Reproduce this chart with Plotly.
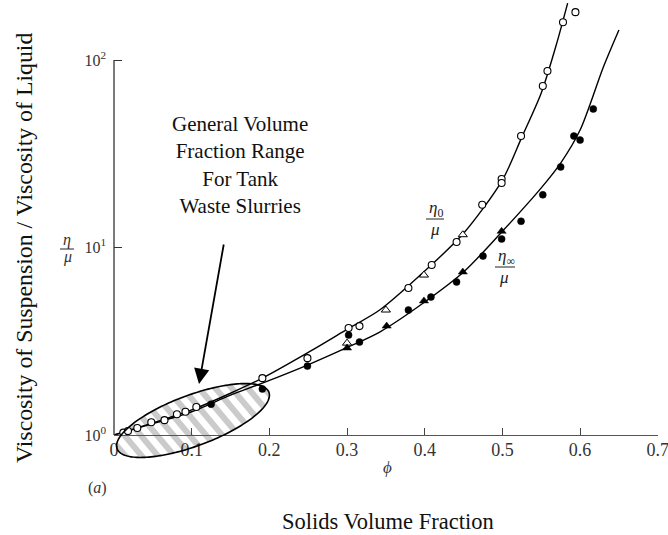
import numpy as np
import plotly.graph_objects as go

# ---------------- data ----------------
# eta_0 / mu : open circles
x_open_c = [0.012, 0.018, 0.030, 0.048, 0.065, 0.081, 0.092, 0.106, 0.191, 0.249,
            0.302, 0.316, 0.379, 0.409, 0.441, 0.474, 0.499, 0.499, 0.524, 0.552,
            0.558, 0.578, 0.594]
y_open_c = [1.03, 1.05, 1.09, 1.17, 1.20, 1.29, 1.33, 1.41, 2.01, 2.57,
            3.72, 3.81, 6.08, 8.07, 10.7, 16.9, 23.2, 22.1, 39.3, 72.6,
            87.4, 159, 180]
# open triangles
x_open_t = [0.300, 0.350, 0.399, 0.449]
y_open_t = [3.09, 4.64, 7.13, 11.7]
# eta_inf / mu : filled circles
x_fill_c = [0.125, 0.191, 0.249, 0.302, 0.316, 0.379, 0.408, 0.441, 0.475, 0.499,
            0.524, 0.552, 0.575, 0.592, 0.600, 0.617]
y_fill_c = [1.46, 1.76, 2.33, 3.41, 3.13, 4.64, 5.44, 6.55, 9.0, 11.1,
            13.8, 19.1, 26.9, 39.3, 37.4, 54.8]
# filled triangles
x_fill_t = [0.300, 0.351, 0.399, 0.449, 0.499]
y_fill_t = [2.91, 3.81, 5.19, 7.4, 12.2]

# fitted curves as drawn in the picture
x_curve0 = [0.0, 0.05, 0.10, 0.15, 0.191, 0.249, 0.301, 0.342, 0.40, 0.45, 0.50, 0.525, 0.55, 0.57, 0.584]
y_curve0 = [1.0, 1.16, 1.36, 1.67, 2.01, 2.74, 3.68, 4.64, 7.49, 11.9, 22.9, 38.8, 66.7, 123, 201]
x_curveI = [0.0, 0.05, 0.10, 0.15, 0.191, 0.249, 0.301, 0.342, 0.40, 0.45, 0.50, 0.55, 0.575, 0.60, 0.63, 0.65]
y_curveI = [1.0, 1.15, 1.33, 1.63, 1.89, 2.36, 2.94, 3.54, 5.12, 7.4, 12.2, 20.8, 28.2, 42.3, 91.8, 144.6]

x_ticks = [0, 0.1, 0.2, 0.3, 0.4, 0.5, 0.6, 0.7]
x_tick_text = ["0", "0.1", "0.2", "0.3", "0.4", "0.5", "0.6", "0.7"]
y_ticks = [1, 10, 100]
y_tick_text = ["10<sup>0</sup>", "10<sup>1</sup>", "10<sup>2</sup>"]

# ---------------- layout geometry ----------------
W, H = 668, 535
ML, MR, MT, MB = 114, 10, 0, 100
PW, PH = W - ML - MR, H - MT - MB
DEC = 187.5                      # pixels per decade
YTOP = PH / DEC                  # log10 of top of plot area

SERIF = "Liberation Serif, Times New Roman, serif"


def px2paper(px, py):
    return (px - ML) / PW, (MT + PH - py) / PH


# ---------------- figure ----------------
fig = go.Figure()

line_style = dict(color="black", width=1.4, shape="spline", smoothing=0.8)
fig.add_trace(go.Scatter(x=x_curve0, y=y_curve0, mode="lines", line=line_style, hoverinfo="skip"))
fig.add_trace(go.Scatter(x=x_curveI, y=y_curveI, mode="lines", line=line_style, hoverinfo="skip"))

fig.add_trace(go.Scatter(x=x_open_c, y=y_open_c, mode="markers",
                         marker=dict(symbol="circle", size=7, color="white",
                                     line=dict(color="black", width=1.1))))
fig.add_trace(go.Scatter(x=x_open_t, y=y_open_t, mode="markers",
                         marker=dict(symbol="triangle-up", size=8, color="white",
                                     line=dict(color="black", width=1.0))))
fig.add_trace(go.Scatter(x=x_fill_c, y=y_fill_c, mode="markers",
                         marker=dict(symbol="circle", size=7, color="black",
                                     line=dict(color="black", width=0.5))))
fig.add_trace(go.Scatter(x=x_fill_t, y=y_fill_t, mode="markers",
                         marker=dict(symbol="triangle-up", size=8, color="black",
                                     line=dict(color="black", width=0.5))))

# ---------------- hatched ellipse (decoration, pixel geometry) ----------------
cx, cy, ea, eb, th = 193.0, 420.5, 81.0, 25.4, np.radians(20.4)
t = np.linspace(0, 2 * np.pi, 181)[:-1]
ex = cx + ea * np.cos(t) * np.cos(th) + eb * np.sin(t) * np.sin(th)
ey = cy - ea * np.cos(t) * np.sin(th) + eb * np.sin(t) * np.cos(th)
ell = list(zip(ex, ey))

ang = np.radians(50)
nvec = (np.sin(ang), -np.cos(ang))
period, stripe_w = 12.5, 6.0


def clip(poly, sval, keep_ge):
    out = []
    n = len(poly)
    for i in range(n):
        p, q = poly[i], poly[(i + 1) % n]
        sp = p[0] * nvec[0] + p[1] * nvec[1] - sval
        sq = q[0] * nvec[0] + q[1] * nvec[1] - sval
        ip = sp >= 0 if keep_ge else sp <= 0
        iq = sq >= 0 if keep_ge else sq <= 0
        if ip:
            out.append(p)
        if ip != iq:
            f = sp / (sp - sq)
            out.append((p[0] + f * (q[0] - p[0]), p[1] + f * (q[1] - p[1])))
    return out


svals = [x * nvec[0] + y * nvec[1] for x, y in ell]
k0, k1 = int(np.floor(min(svals) / period)) - 1, int(np.ceil(max(svals) / period)) + 1
shapes = []
for k in range(k0, k1):
    s0 = k * period
    poly = clip(clip(ell, s0, True), s0 + stripe_w, False)
    if len(poly) < 3:
        continue
    pts = [px2paper(x, y) for x, y in poly]
    path = "M " + " L ".join(f"{a:.5f},{b:.5f}" for a, b in pts) + " Z"
    shapes.append(dict(type="path", path=path, xref="paper", yref="paper",
                       fillcolor="#cbcbcb", line=dict(width=0), layer="below"))

pts = [px2paper(x, y) for x, y in ell]
path = "M " + " L ".join(f"{a:.5f},{b:.5f}" for a, b in pts) + " Z"
shapes.append(dict(type="path", path=path, xref="paper", yref="paper",
                   line=dict(color="black", width=1.6), layer="above"))

# y axis line from 10^0 to 10^2
shapes.append(dict(type="line", xref="paper", yref="paper", x0=0, x1=0,
                   y0=0, y1=2 / YTOP, line=dict(color="#333", width=1.3)))

# fraction bars for labels
for (bx0, bx1, by) in [(60, 74, 249), (426, 444, 219), (495, 515, 267)]:
    x0p, y0p = px2paper(bx0, by)
    x1p, _ = px2paper(bx1, by)
    shapes.append(dict(type="line", xref="paper", yref="paper", x0=x0p, x1=x1p,
                       y0=y0p, y1=y0p, line=dict(color="#222", width=1)))

fig.update_layout(shapes=shapes)

# ---------------- annotations ----------------
ann = []


def add_text(text, px, py, size, angle=0, color="#111"):
    xp, yp = px2paper(px, py)
    ann.append(dict(text=text, x=xp, y=yp, xref="paper", yref="paper", showarrow=False,
                    xanchor="center", yanchor="middle", textangle=angle,
                    font=dict(family=SERIF, size=size, color=color)))


add_text("General Volume<br>Fraction Range<br>For Tank<br>Waste Slurries", 240, 165, 21)
add_text("Viscosity of Suspension / Viscosity of Liquid", 24, 248, 23.8, angle=-90)
add_text("Solids Volume Fraction", 388, 521, 22.5)
add_text("<i>η</i>", 67, 240, 16, color="#333")
add_text("<i>μ</i>", 67, 257, 16, color="#333")
add_text("<i>η</i><sub>0</sub>", 436, 209, 17, color="#222")
add_text("<i>μ</i>", 435, 229, 17, color="#222")
add_text("<i>η</i><sub>∞</sub>", 506, 257, 17, color="#222")
add_text("<i>μ</i>", 504, 277, 17, color="#222")
add_text("<i>ϕ</i>", 387, 467, 17, color="#333")
add_text("(<i>a</i>)", 97, 488, 16, color="#333")

tipx, tipy = px2paper(199, 384)
ann.append(dict(x=tipx, y=tipy, xref="paper", yref="paper", ax=25, ay=-141,
                axref="pixel", ayref="pixel", showarrow=True, arrowhead=2,
                arrowsize=1.7, arrowwidth=1.8, arrowcolor="black", text=""))

fig.update_layout(annotations=ann)

fig.update_layout(
    width=W, height=H,
    margin=dict(l=ML, r=MR, t=MT, b=MB, pad=0),
    paper_bgcolor="white", plot_bgcolor="rgba(0,0,0,0)",
    showlegend=False,
    xaxis=dict(range=[0, 0.7003], tickvals=x_ticks, ticktext=x_tick_text,
               showgrid=False, zeroline=False, showline=True, linecolor="#555",
               linewidth=1.2, ticks="inside", ticklen=7, tickcolor="#444",
               ticklabelstandoff=-2, automargin=False, ticklabeloverflow="allow",
               tickfont=dict(family=SERIF, size=18, color="#333")),
    yaxis=dict(type="log", range=[0, YTOP], tickvals=y_ticks, ticktext=y_tick_text,
               showgrid=False, zeroline=False, showline=False,
               ticks="inside", ticklen=8, tickcolor="#333", ticklabelstandoff=7,
               tickfont=dict(family=SERIF, size=16, color="#333")),
)

fig.write_html("out.html")
